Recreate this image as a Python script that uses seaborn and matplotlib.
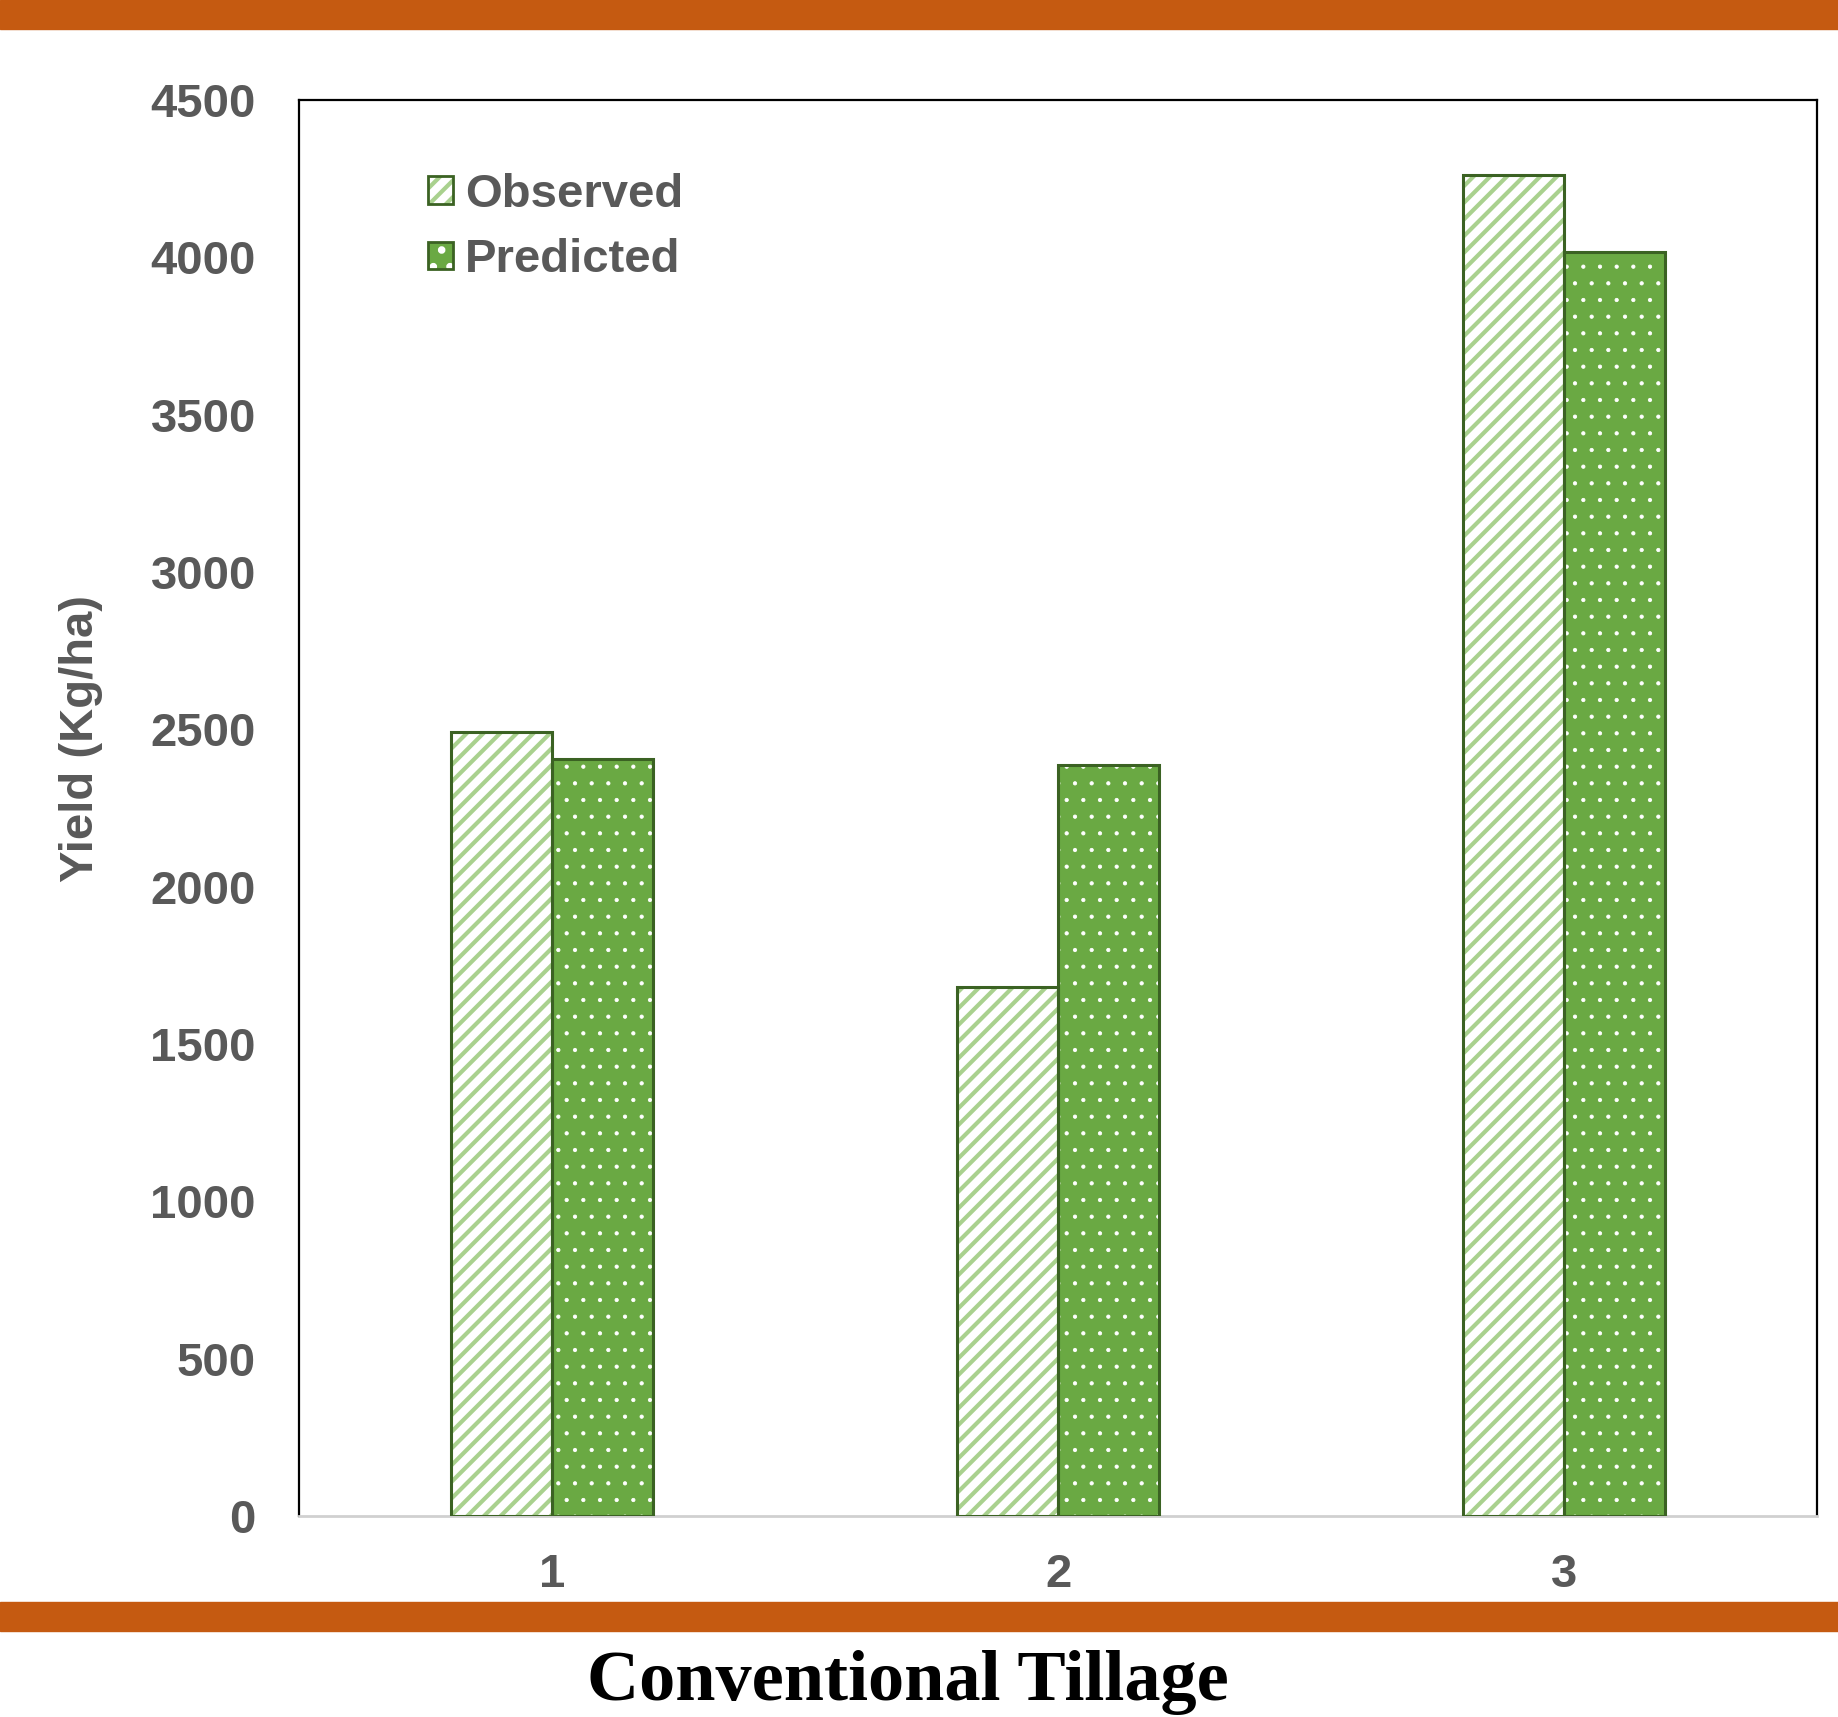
import pandas as pd
import numpy as np
import matplotlib
matplotlib.use("Agg")
import matplotlib.pyplot as plt
import seaborn as sns
from matplotlib.patches import Rectangle, Patch

# chart data
seasons = ["1", "2", "3"]
observed = [2490, 1680, 4260]
predicted = [2405, 2388, 4016]
series_names = ["Observed", "Predicted"]
y_ticks = [0, 500, 1000, 1500, 2000, 2500, 3000, 3500, 4000, 4500]

sns.set_style("white")
plt.rcParams['font.family'] = ['Liberation Sans', 'DejaVu Sans']
plt.rcParams['hatch.linewidth'] = 3.0

dark_green = "#3b6223"
light_green = "#a9d18e"
mid_green = "#6aa943"
grey_text = "#595959"
orange = "#c55a11"
hatches = ["//", "."]
hatch_colors = [light_green, "white"]
hatch_widths = [3.0, 0.6]


def style_hatch(p, hatch, color, hlw):
    p.set_hatch(hatch)
    p.set_edgecolor(color)
    p.set_linewidth(0)
    if hasattr(p, "set_hatch_linewidth"):
        p.set_hatch_linewidth(hlw)


df = pd.DataFrame({
    "Season": seasons * 2,
    "Type": [series_names[0]] * 3 + [series_names[1]] * 3,
    "Yield": observed + predicted,
})

fig = plt.figure(figsize=(18.38, 17.17), dpi=100)
ax = fig.add_axes([0.1627, 0.1171, 0.8259, 0.8247])

sns.barplot(data=df, x="Season", y="Yield", hue="Type", width=0.4,
            palette=["white", mid_green], saturation=1, legend=False, ax=ax)

# hatch styling, then a dark outline drawn on top of each bar
for cont, hatch, hcol, hlw in zip(ax.containers, hatches, hatch_colors, hatch_widths):
    for bar in cont:
        style_hatch(bar, hatch, hcol, hlw)
        ax.add_patch(Rectangle((bar.get_x(), bar.get_y()), bar.get_width(),
                               bar.get_height(), fill=False,
                               edgecolor=dark_green, lw=2.2, zorder=3))

ax.set_ylim(0, 4500)
ax.set_xlim(-0.5, 2.5)
ax.set_yticks(y_ticks)
ax.tick_params(axis="both", length=0, labelsize=34, labelcolor=grey_text)
ax.tick_params(axis="y", pad=31)
ax.tick_params(axis="x", pad=27)
for lab in ax.get_xticklabels() + ax.get_yticklabels():
    lab.set_fontweight("bold")

ax.set_xlabel("")
ax.set_ylabel("Yield (Kg/ha)", fontsize=34, fontweight="bold", color=grey_text)
ax.yaxis.set_label_coords(-0.129, 0.549)

for side in ["left", "top", "right"]:
    ax.spines[side].set_color("black")
    ax.spines[side].set_linewidth(1.6)
ax.spines["bottom"].set_color("#d0d0d0")
ax.spines["bottom"].set_linewidth(2)

# legend
handles = []
for face, hatch, hcol, hlw in zip(["white", mid_green], hatches, hatch_colors, hatch_widths):
    p = Patch(facecolor=face)
    style_hatch(p, hatch, hcol, hlw)
    handles.append((p, Patch(fill=False, edgecolor=dark_green, lw=2)))
leg = fig.legend(handles, series_names, loc="upper left",
                 bbox_to_anchor=(428 / 1838, 1 - 173 / 1717), frameon=False,
                 borderpad=0, borderaxespad=0, handlelength=0.53,
                 handleheight=0.53, handletextpad=0.25, labelspacing=0.45,
                 prop={"size": 34, "weight": "bold"})
for t in leg.get_texts():
    t.set_color(grey_text)

# orange bands
fig.patches.append(Rectangle((0, 0.9831), 1, 0.0169, transform=fig.transFigure,
                             color=orange, zorder=0))
fig.patches.append(Rectangle((0, 0.0501), 1, 0.0169, transform=fig.transFigure,
                             color=orange, zorder=0))

fig.text(0.4937, 0.010, "Conventional Tillage", ha="center", va="baseline",
         fontsize=52, fontweight="bold",
         family=["Liberation Serif", "DejaVu Serif"], color="black")

fig.savefig("out.png", dpi=100)
